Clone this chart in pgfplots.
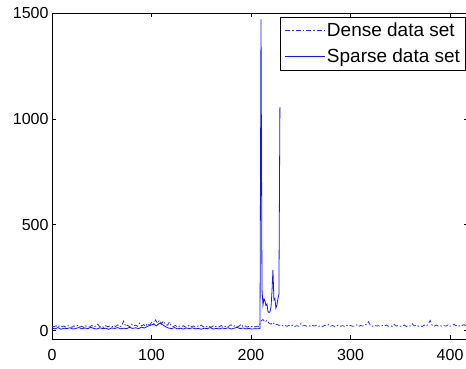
\documentclass[border=0pt]{standalone}
\usepackage{pgfplots}
\pgfplotsset{compat=1.18}
\usepackage{fontspec}
\setmainfont{Liberation Sans}
\pgfplotstableread{
x y
0 20
2 18
4 22
6 17
8 24
10 19
12 21
14 16
16 23
18 20
20 15
22 22
24 18
26 25
28 17
30 20
32 14
34 22
36 19
38 16
40 24
42 18
44 21
46 30
48 17
50 20
52 15
54 23
56 18
58 21
60 16
62 24
64 19
66 27
68 18
70 22
72 45
74 20
76 25
78 17
80 30
82 21
84 26
86 19
88 35
90 22
92 28
94 20
96 33
98 25
100 38
102 30
104 50
106 35
108 48
110 32
112 45
114 28
116 25
118 40
120 22
122 19
124 24
126 17
128 21
130 18
132 23
134 16
136 20
138 25
140 18
142 22
144 16
146 21
148 19
150 26
152 17
154 22
156 18
158 20
160 15
162 23
164 19
166 21
168 17
170 24
172 18
174 20
176 16
178 22
180 27
182 19
184 23
186 17
188 21
190 30
192 18
194 22
196 16
198 20
200 18
202 22
204 17
206 21
208 19
210 45
212 52
214 40
216 48
218 35
220 30
222 38
224 26
226 30
228 24
230 27
232 22
234 25
236 20
238 24
240 21
242 26
244 19
246 23
248 20
250 32
252 22
254 25
256 20
258 23
260 19
262 24
264 21
266 26
268 20
270 23
272 19
274 25
276 21
278 28
280 20
282 24
284 19
286 22
288 26
290 20
292 23
294 19
296 25
298 21
300 24
302 20
304 22
306 27
308 19
310 24
312 21
314 26
316 30
318 42
320 24
322 20
324 25
326 21
328 23
330 19
332 24
334 21
336 26
338 20
340 23
342 19
344 28
346 21
348 24
350 20
352 22
354 26
356 19
358 24
360 21
362 32
364 22
366 25
368 20
370 23
372 19
374 26
376 21
378 30
380 48
382 24
384 20
386 26
388 21
390 24
392 19
394 23
396 21
398 27
400 20
402 24
404 30
406 22
408 26
410 20
412 24
414 28
416 22
418 25
}\dense
\pgfplotstableread{
x y
0 12
3 8
6 14
9 6
12 11
15 9
18 13
21 7
24 10
27 14
30 8
33 12
36 9
39 15
42 10
45 7
48 13
51 9
54 11
57 6
60 12
63 10
66 14
69 8
72 11
75 9
78 15
81 10
84 13
87 9
90 16
93 12
96 20
99 25
102 30
105 22
108 35
111 28
114 18
117 12
120 9
123 14
126 8
129 11
132 7
135 12
138 9
141 13
144 8
147 10
150 6
153 11
156 9
159 14
162 7
165 10
168 8
171 12
174 9
177 13
180 7
183 11
186 15
189 9
192 12
195 8
198 10
201 7
204 9
207 8
209 10
210 1470
211 195
212 120
213 150
214 140
215 118
216 125
217 90
218 85
219 88
220 110
221 180
222 287
223 145
224 150
225 106
226 120
227 150
228 170
229 1055
}\sparse
\begin{document}
\begin{tikzpicture}
\useasboundingbox (-52pt,-29pt) rectangle (414pt,339pt);
\begin{axis}[
  at={(0,0)}, anchor=south west, scale only axis,
  width=416pt, height=326pt,
  xmin=0, xmax=418, ymin=-40, ymax=1500,
  xtick={0,100,200,300,400}, ytick={0,500,1000,1500},
  tick align=inside, major tick length=4pt,
  tick style={black, line width=0.6pt},
  axis line style={black, line width=0.9pt},
  ticklabel style={font=\fontsize{16}{19}\selectfont},
  /pgf/number format/assume math mode=true,
  scaled ticks=false,
  /pgf/number format/set thousands separator={},
  xticklabel style={yshift=-7pt},
  legend cell align=left,
  legend image code/.code={\draw[#1] (0pt,0pt) -- (40pt,0pt);},
  legend style={at={(axis description cs:1,1)}, anchor=north east,
    xshift=-2pt, yshift=-4pt, draw=black, line width=0.9pt,
    font=\fontsize{19}{21}\selectfont, inner xsep=4pt, inner ysep=4pt,
    row sep=8pt, nodes={inner sep=1.5pt}},
]
\addplot[draw={rgb,255:red,40;green,40;blue,255}, line width=0.75pt, dash pattern=on 5pt off 2pt on 1.5pt off 2pt] table {\dense};
\addlegendentry{Dense data set}
\addplot[draw={rgb,255:red,20;green,20;blue,255}, line width=0.8pt] table {\sparse};
\addlegendentry{Sparse data set}
\end{axis}
\end{tikzpicture}
\end{document}
